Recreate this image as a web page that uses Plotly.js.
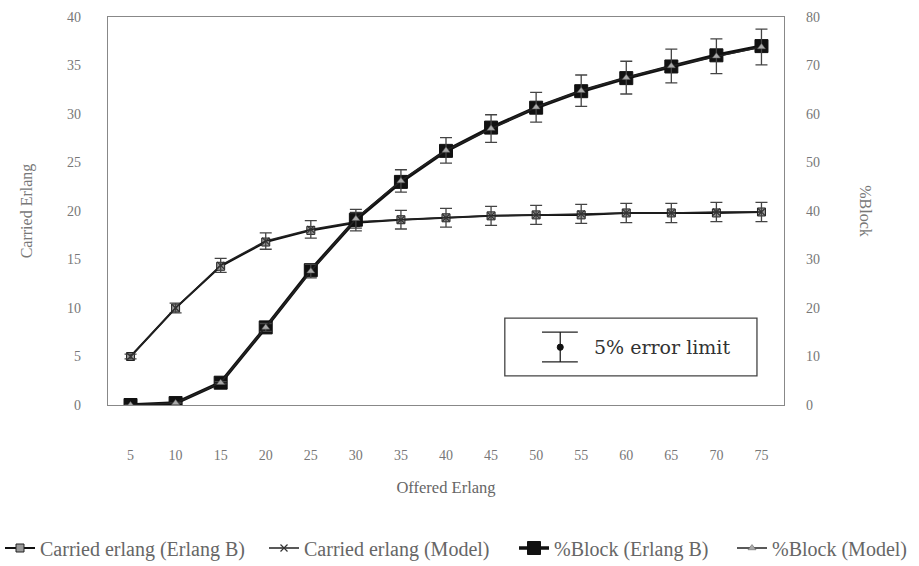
<!DOCTYPE html>
<html>
<head>
<meta charset="utf-8">
<script src="https://cdn.plot.ly/plotly-3.0.1.min.js"></script>
<style>html,body{margin:0;padding:0;background:#fff;}#chart{width:919px;height:566px;}</style>
</head>
<body>
<div id="chart"></div>
<script>
const offeredErlang = ['5','10','15','20','25','30','35','40','45','50','55','60','65','70','75'];
const carriedErlangB = [5.0, 10.0, 14.3, 16.8, 18.0, 18.8, 19.1, 19.3, 19.5, 19.6, 19.6, 19.8, 19.8, 19.8, 19.9];
const carriedModel   = [5.0, 10.0, 14.4, 16.9, 18.1, 18.9, 19.1, 19.3, 19.5, 19.6, 19.7, 19.8, 19.8, 19.9, 19.9];
const blockErlangB   = [0.0, 0.4, 4.6, 16.0, 27.8, 38.2, 46.0, 52.4, 57.2, 61.3, 64.7, 67.4, 69.8, 72.1, 74.0];
const blockModel     = [0.0, 0.4, 4.6, 16.0, 27.6, 38.4, 46.2, 52.5, 57.0, 61.4, 64.8, 67.5, 69.9, 71.9, 73.8];
const errorPercent = 5;

const tickFont = {family: 'Liberation Serif, serif', size: 14, color: '#777'};
const errStyle = {type: 'percent', value: errorPercent, visible: true, color: '#444', thickness: 1.3, width: 6};
const legFont = {family: 'Liberation Serif, serif', size: 20, color: '#666'};

const traces = [
  {x: offeredErlang, y: carriedErlangB, name: 'Carried erlang (Erlang B)', type: 'scatter', mode: 'lines+markers', legend: 'legend',
   line: {color: '#111', width: 2}, marker: {symbol: 'square', size: 8, color: '#999', line: {color: '#222', width: 1}}},
  {x: offeredErlang, y: carriedModel, name: 'Carried erlang (Model)', type: 'scatter', mode: 'lines+markers', legend: 'legend2',
   line: {color: '#222', width: 1.5}, marker: {symbol: 'x-thin', size: 7, color: '#333', line: {color: '#333', width: 1.2}},
   error_y: errStyle},
  {x: offeredErlang, y: blockErlangB, name: '%Block (Erlang B)', type: 'scatter', mode: 'lines+markers', yaxis: 'y2', legend: 'legend3',
   line: {color: '#111', width: 3.5}, marker: {symbol: 'square', size: 13, color: '#111', line: {color: '#111', width: 1}}},
  {x: offeredErlang, y: blockModel, name: '%Block (Model)', type: 'scatter', mode: 'lines+markers', yaxis: 'y2', legend: 'legend4',
   line: {color: '#222', width: 1.5}, marker: {symbol: 'triangle-up', size: 7, color: '#aaa', line: {color: '#555', width: 0.5}},
   error_y: errStyle}
];

function leg(px) {
  return {orientation: 'h', xref: 'container', yref: 'container', x: px / 919, xanchor: 'left',
          y: 1 - 548 / 566, yanchor: 'middle', font: legFont, itemwidth: 30, bgcolor: 'rgba(0,0,0,0)'};
}

const layout = {
  width: 919, height: 566,
  margin: {l: 108, r: 135, t: 17, b: 161, autoexpand: false},
  paper_bgcolor: '#fff', plot_bgcolor: '#fff',
  showlegend: true,
  legend: leg(-17),
  legend2: leg(264),
  legend3: leg(514),
  legend4: leg(732),
  xaxis: {type: 'category', range: [-0.5, 14.5], showgrid: false, zeroline: false,
          showline: true, linecolor: '#888', linewidth: 1.2, mirror: true,
          ticks: 'outside', ticklen: 37, tickcolor: 'rgba(0,0,0,0)', tickfont: tickFont,
          title: {text: 'Offered Erlang', font: {family: 'Liberation Serif, serif', size: 16.5, color: '#666'}, standoff: 19}},
  yaxis: {range: [0, 40], dtick: 5, showgrid: false, zeroline: false,
          showline: true, linecolor: '#888', linewidth: 1.2,
          ticks: 'outside', ticklen: 23, tickcolor: 'rgba(0,0,0,0)', tickfont: tickFont,
          title: {text: 'Carried Erlang', font: {family: 'Liberation Serif, serif', size: 16, color: '#777'}, standoff: 30}},
  yaxis2: {range: [0, 80], dtick: 10, overlaying: 'y', side: 'right', showgrid: false, zeroline: false,
           showline: true, linecolor: '#888', linewidth: 1.2,
           ticks: 'outside', ticklen: 18, tickcolor: 'rgba(0,0,0,0)', tickfont: tickFont},
  shapes: [
    {type: 'rect', xref: 'paper', yref: 'paper', x0: 0.587, x1: 0.960, y0: 0.075, y1: 0.224,
     line: {color: '#444', width: 1.3}, fillcolor: '#fff'},
    {type: 'line', xref: 'paper', yref: 'paper', x0: 0.669, x1: 0.669, y0: 0.111, y1: 0.188, line: {color: '#222', width: 1.3}},
    {type: 'line', xref: 'paper', yref: 'paper', x0: 0.642, x1: 0.695, y0: 0.188, y1: 0.188, line: {color: '#222', width: 1.3}},
    {type: 'line', xref: 'paper', yref: 'paper', x0: 0.642, x1: 0.695, y0: 0.111, y1: 0.111, line: {color: '#222', width: 1.3}},
    {type: 'circle', xref: 'paper', yref: 'paper', x0: 0.6645, x1: 0.6735, y0: 0.141, y1: 0.157,
     line: {color: '#111', width: 1}, fillcolor: '#111'}
  ],
  annotations: [
    {xref: 'paper', yref: 'paper', x: 0.716, y: 0.149, xanchor: 'left', yanchor: 'middle', showarrow: false,
     text: '5% error limit', font: {family: 'DejaVu Serif, serif', size: 19, color: '#333'}},
    {xref: 'paper', yref: 'paper', x: 1.121, y: 0.5, xanchor: 'center', yanchor: 'middle', showarrow: false, textangle: 90,
     text: '%Block', font: {family: 'Liberation Serif, serif', size: 16, color: '#777'}}
  ]
};

Plotly.newPlot('chart', traces, layout, {displayModeBar: false, staticPlot: true});
</script>
</body>
</html>
